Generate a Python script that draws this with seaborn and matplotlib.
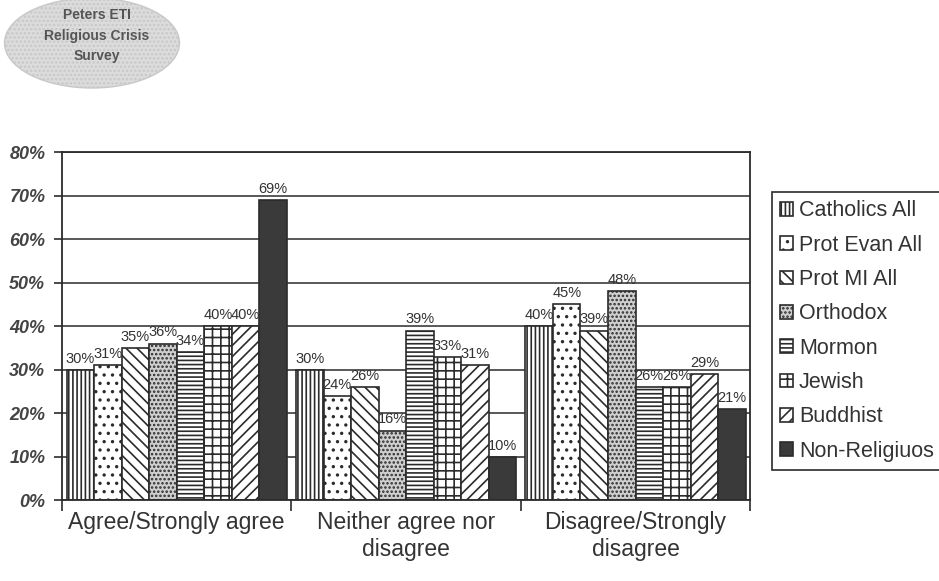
import matplotlib
matplotlib.use("Agg")
import matplotlib.pyplot as plt
from matplotlib.patches import Ellipse
import seaborn as sns
import pandas as pd

# Survey responses (percent of each group)
responses = ["Agree/Strongly agree", "Neither agree nor\ndisagree", "Disagree/Strongly\ndisagree"]
groups = ["Catholics All", "Prot Evan All", "Prot MI All", "Orthodox",
          "Mormon", "Jewish", "Buddhist", "Non-Religiuos"]
catholics_all = [30, 30, 40]
prot_evan_all = [31, 24, 45]
prot_mi_all = [35, 26, 39]
orthodox = [36, 16, 48]
mormon = [34, 39, 26]
jewish = [40, 33, 26]
buddhist = [40, 31, 29]
non_religious = [69, 10, 21]
y_ticks = [0, 10, 20, 30, 40, 50, 60, 70, 80]

series = [catholics_all, prot_evan_all, prot_mi_all, orthodox,
          mormon, jewish, buddhist, non_religious]
df = pd.DataFrame(
    [(resp, grp, vals[i]) for grp, vals in zip(groups, series)
     for i, resp in enumerate(responses)],
    columns=["response", "group", "pct"],
)

sns.set_theme(style="white")
plt.rcParams["font.family"] = ["Liberation Sans", "DejaVu Sans"]
plt.rcParams["hatch.linewidth"] = 1.2

ink = "#2b2b2b"
fig = plt.figure(figsize=(9.39, 5.81), dpi=100)
ax = fig.add_axes([0.066, 0.139, 0.733, 0.599])

sns.barplot(data=df, x="response", y="pct", hue="group", order=responses,
            hue_order=groups, palette=["white"] * len(groups), saturation=1,
            width=0.96, edgecolor=ink, linewidth=1.2, legend=False, ax=ax)

hatches = ["||||", "..", "\\\\\\", "....", "----", "++", "///", ""]
faces = ["white", "white", "white", "#cfcfcf", "white", "white", "white", "#3a3a3a"]
for cont, h, fc in zip(ax.containers, hatches, faces):
    for bar in cont.patches:
        bar.set_hatch(h)
        bar.set_facecolor(fc)
        bar.set_edgecolor(ink)
    ax.bar_label(cont, fmt="%d%%", padding=3, fontsize=10.5, color="#333333")

# axes, grid and frame
ax.set_ylim(0, 80)
ax.set_yticks(y_ticks)
ax.set_yticklabels([f"{v}%" for v in y_ticks], fontsize=13, fontweight="bold",
                   fontstyle="italic", color="#444444")
ax.yaxis.grid(True, color=ink, linewidth=1.1)
ax.set_axisbelow(True)
for s in ax.spines.values():
    s.set_visible(True)
    s.set_color(ink)
    s.set_linewidth(1.3)

ax.set_xlim(-0.5, 2.5)
ax.set_xticks([-0.5, 0.5, 1.5, 2.5])
ax.set_xticklabels([])
ax.set_xticks([0, 1, 2], minor=True)
ax.set_xticklabels(responses, minor=True, fontsize=16.5, color="#333333")
ax.tick_params(axis="x", which="major", direction="out", length=8, width=1.2,
               color=ink, bottom=True)
ax.tick_params(axis="x", which="minor", length=0, pad=8)
ax.tick_params(axis="y", direction="out", length=6, width=1.2, color=ink,
               left=True, pad=6)
ax.set_xlabel("")
ax.set_ylabel("")

leg = fig.legend(handles=ax.containers, labels=groups, loc="upper left",
                 bbox_to_anchor=(0.822, 0.670), fontsize=15.5, frameon=True,
                 fancybox=False, edgecolor=ink, framealpha=1,
                 handlelength=0.6, handleheight=0.6, handletextpad=0.25,
                 labelspacing=0.62, borderpad=0.4, borderaxespad=0)
leg.get_frame().set_linewidth(1.2)
for t in leg.get_texts():
    t.set_color("#333333")

# survey badge
badge = Ellipse((92 / 939, 1 - 43 / 581), width=175 / 939, height=90 / 581,
                transform=fig.transFigure, facecolor="#dcdcdc",
                edgecolor="#c8c8c8", hatch="....", zorder=0)
fig.add_artist(badge)
for txt, yy in [("Peters ETI", 15), ("Religious Crisis", 36), ("Survey", 56)]:
    fig.text(97 / 939, 1 - yy / 581, txt, ha="center", va="center",
             fontsize=10, fontweight="bold", color="#555555")

fig.savefig("out.png", dpi=100, facecolor="white")
